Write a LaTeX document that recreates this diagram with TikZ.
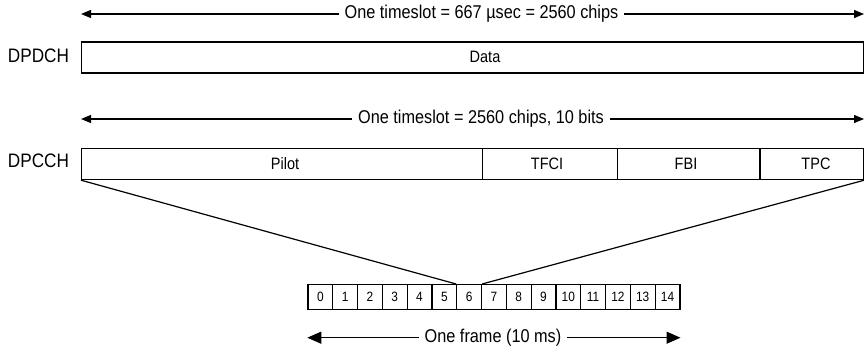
\documentclass[tikz,border=0pt]{standalone}
\usepackage{fontspec}
\setmainfont{Liberation Sans}[FakeStretch=0.88]
\usetikzlibrary{arrows.meta}
\begin{document}
\begin{tikzpicture}[x=1pt,y=-1pt,
  ln/.style={line width=1.2pt},
  cell/.style={draw,ln,inner sep=0pt,anchor=north west},
  chan/.style={font=\fontsize{19.5}{22}\selectfont},
  dim/.style={font=\fontsize{18.5}{21}\selectfont,fill=white,inner xsep=6pt,inner ysep=2pt},
  txt/.style={font=\fontsize{16.5}{19}\selectfont,inner sep=0pt},
  num/.style={font=\fontsize{13.5}{15}\selectfont,inner sep=0pt},
  dimarrow/.style={ln,{Triangle[length=10pt,width=8pt]}-{Triangle[length=10pt,width=8pt]}},
  bigarrow/.style={ln,{Triangle[length=14pt,width=12pt]}-{Triangle[length=14pt,width=12pt]}}]
\useasboundingbox (0,0) rectangle (864,350);

% top dimension
\coordinate (t1) at (81,14);
\coordinate (t2) at (864,14);
\draw[dimarrow] (t1) -- (t2);
\node[dim] (tlab) at (481.5,14) {One timeslot = 667 µsec = 2560 chips};

% DPDCH
\node[chan] (dpdch) at (38.5,56) {DPDCH};
\node[cell,minimum width=782pt,minimum height=31pt] (data) at (81,41.5) {};
\node[txt] (datatxt) at (485,57) {Data};

% second dimension
\coordinate (s1) at (81,119);
\coordinate (s2) at (864,119);
\draw[dimarrow] (s1) -- (s2);
\node[dim] (slab) at (481,119) {One timeslot = 2560 chips, 10 bits};

% DPCCH
\node[chan] (dpcch) at (38.5,161) {DPCCH};
\node[cell,minimum width=400.7pt,minimum height=31.3pt] (pilot) at (81,147.7) {};
\node[cell,minimum width=135.3pt,minimum height=31.3pt] (tfci) at (481.7,147.7) {};
\node[cell,minimum width=142.3pt,minimum height=31.3pt] (fbi) at (617,147.7) {};
\node[cell,minimum width=103.7pt,minimum height=31.3pt] (tpc) at (759.3,147.7) {};
\node[txt] (pilottxt) at (285,164) {Pilot};
\node[txt] (tfcitxt) at (547,164) {TFCI};
\node[txt] (fbitxt) at (686,164) {FBI};
\node[txt] (tpctxt) at (816,164) {TPC};

% frame slots
\foreach \i in {0,...,14}{
  \node[cell,minimum width=24.8pt,minimum height=25pt] (slot\i) at ({307.3+24.8*\i},284) {};
  \node[num] (n\i) at (slot\i.center) {\i};
}

% expansion lines
\draw[ln] (pilot.south west) -- (slot6.north west);
\draw[ln] (tpc.south east) -- (slot6.north east);

% frame dimension
\draw[bigarrow] (slot0.south west |- 0,337.7) coordinate (f1) -- (slot14.south east |- 0,337.7) coordinate (f2);
\node[dim] (flab) at (493,337.7) {One frame (10 ms)};
\end{tikzpicture}
\end{document}
